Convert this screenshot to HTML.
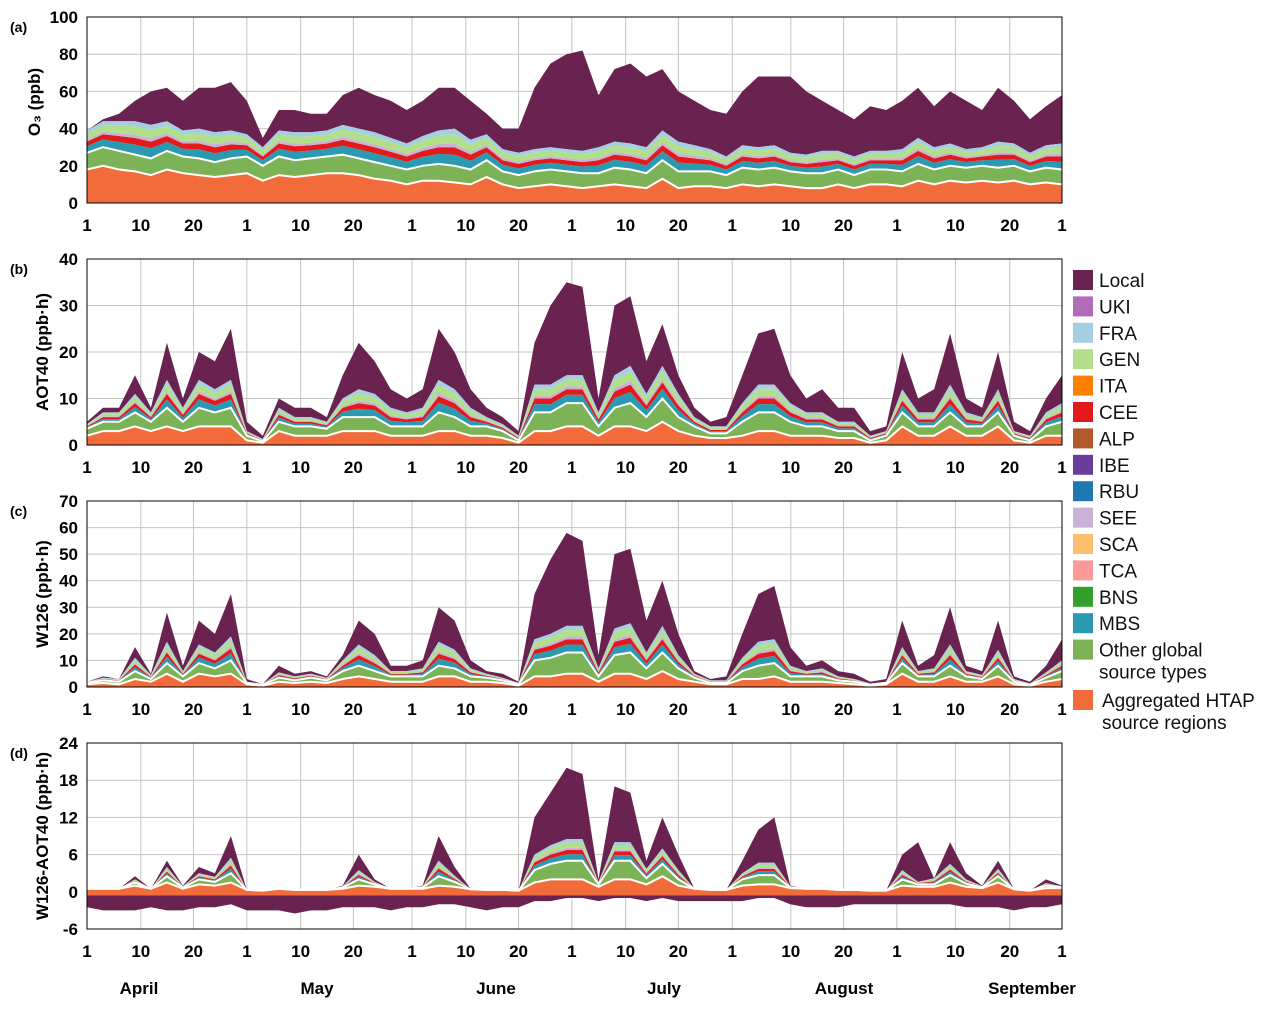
<!DOCTYPE html>
<html><head><meta charset="utf-8">
<style>
body{margin:0;background:#fff;}
svg{display:block;font-family:"Liberation Sans",sans-serif;}
.t{font-weight:bold;font-size:17px;fill:#000;}
.lg{font-size:19px;fill:#111;}
</style></head>
<body>
<svg id="c" width="1268" height="1010" viewBox="0 0 1268 1010" xmlns="http://www.w3.org/2000/svg"></svg>
<script>
// ---- data (3-day steps, day 0 = 1 April ... day 183 = 1 October) ----
const dayStep = 3;
const xTickLabels = ["1","10","20","1","10","20","1","10","20","1","10","20","1","10","20","1","10","20","1"];
const xTickDays = [0,10.1,20,30,40.1,50,61,71.1,81,91,101.1,111,121.1,132.1,142,152,163,173.2,183];
const months = ["April","May","June","July","August","September"];
const monthX = [139,317,496,664,844,1032];

const a_total=[38,45,48,55,60,62,55,62,62,65,55,35,50,50,48,48,58,62,58,55,50,55,62,62,55,48,40,40,62,75,80,82,58,72,75,68,72,60,55,50,48,60,68,68,68,60,55,50,45,52,50,55,62,52,60,55,50,62,55,45,52,58];
const a_htap=[18,20,18,17,15,18,16,15,14,15,16,12,15,14,15,16,16,15,13,12,10,12,12,11,10,14,10,8,9,10,9,8,9,10,9,8,13,8,9,9,8,10,9,10,9,8,8,10,8,10,10,9,12,10,12,11,12,11,12,10,11,10];
const a_other=[9,10,10,9,9,10,9,9,8,9,9,8,10,9,9,9,10,9,9,8,8,8,9,9,8,9,7,7,8,8,8,8,7,9,9,8,10,9,8,8,7,9,9,9,8,8,8,8,7,8,8,8,9,8,8,8,8,8,8,7,8,8];
const a_mix=[12,14,16,18,18,16,14,16,16,15,12,10,14,15,14,14,16,16,16,15,14,16,18,20,16,14,12,12,12,12,12,12,14,14,14,14,16,16,14,12,10,12,12,12,10,10,12,10,10,10,10,12,14,12,12,10,10,14,12,10,12,14];

const b_total=[5,8,8,15,8,22,10,20,18,25,5,2,10,8,8,6,15,22,18,12,10,12,25,20,12,8,6,3,22,30,35,34,10,30,32,18,26,15,8,5,6,15,24,25,15,10,12,8,8,3,4,20,10,12,24,10,8,20,5,3,10,15];
const b_htap=[2,3,3,4,3,4,3,4,4,4,1,0.5,3,2,2,2,3,3,3,2,2,2,3,3,2,2,1.5,0.5,3,3,4,4,2,4,4,3,5,3,2,1.5,1.5,2,3,3,2,2,2,1.5,1.5,0.5,1,4,2,2,4,2,2,4,1,0.5,2,2];
const b_other=[1.5,2,2,3,2,4,2,4,3,4,1,0.3,2,2,2,1.5,3,3,3,2,2,2,4,3,2,2,1.5,0.5,4,4,5,5,2,4,5,3,5,3,2,1,1,3,4,4,3,2,2,1.5,1.5,0.5,1,3,2,2,3,2,2,3,1,0.5,2,3];
const b_mix=[1,2,2,4,2,6,3,6,5,6,1,0.5,3,2,2,1.5,4,6,5,4,3,4,7,6,4,2,1.5,1,6,6,6,6,3,7,8,5,7,5,2,1.5,1.5,4,6,6,4,3,3,2,2,1,1,5,3,3,6,3,2,5,1,1,3,4];

const c_total=[2,4,3,15,5,28,8,25,20,35,3,1,8,5,6,4,12,25,20,8,8,10,30,25,10,6,5,2,35,48,58,55,12,50,52,25,40,20,6,3,4,20,35,38,15,8,10,6,5,2,3,25,8,12,30,8,6,25,4,2,8,18];
const c_htap=[1,1.5,1,3,2,5,2,5,4,5,1,0.5,2,1.5,2,1.5,3,4,3,2,2,2,4,4,2,2,1.5,0.5,4,4,5,5,2,5,5,3,6,3,2,1,1,3,3,4,2,2,2,1.5,1,0.5,1,5,2,2,4,2,2,4,1,0.5,2,3];
const c_other=[0.5,1,1,3,1,4,2,4,3,5,0.5,0.3,1.5,1,1.5,1,3,4,3,2,2,2,4,3,2,1.5,1,0.5,6,7,8,8,2,7,8,4,7,4,1.5,0.5,0.5,3,5,5,2,2,2,1,1,0.3,0.5,4,2,2,4,2,1,4,1,0.3,1.5,3];
const c_mix=[0.5,1,1,5,1.5,8,2,7,6,9,0.5,0.2,2,1.5,1.5,1,4,8,6,2,2,3,9,7,3,1.5,1,0.5,8,9,10,10,3,10,11,6,10,5,1.5,1,1,5,9,9,4,2,3,1.5,1,0.5,0.5,6,2,3,8,2,1.5,6,1,0.5,2,4];

const d_total=[0.5,0.5,0.5,2.5,0.5,5,1,4,3,9,0.3,0.2,0.5,0.3,0.3,0.3,1,6,2,0.5,0.5,1,9,4,0.5,0.3,0.3,0.2,12,16,20,19,2,17,16,5,12,6,0.5,0.3,0.3,5,10,12,1,0.5,0.5,0.3,0.3,0.2,0.2,6,8,2,8,3,1,5,0.5,0.2,2,1];
const d_htap=[0.5,0.5,0.5,1,0.5,1.5,0.5,1.2,1,1.5,0.3,0.2,0.5,0.3,0.3,0.3,0.5,1,0.8,0.5,0.5,0.5,1,0.8,0.4,0.3,0.3,0.2,1.5,2,2,2,0.8,2,2,1.2,2.5,1,0.5,0.3,0.3,1,1.2,1.2,0.6,0.5,0.5,0.3,0.3,0.2,0.2,1,0.8,0.8,1.5,0.8,0.6,1.5,0.4,0.2,0.6,0.6];
const d_other=[0,0,0,0.5,0,1,0.2,0.8,0.6,1.5,0,0,0,0,0,0,0.2,1,0.4,0,0,0.2,1.5,0.8,0,0,0,0,2,2.5,3,3,0.4,3,3,1,2,1,0,0,0,1,1.5,1.5,0.1,0,0,0,0,0,0,1,0.4,0.4,1.2,0.5,0.1,1,0,0,0.4,0.1];
const d_mix=[0,0,0,0.5,0,1.5,0.2,1,0.8,2.5,0,0,0,0,0,0,0.2,1.5,0.4,0,0,0.2,2.5,1,0,0,0,0,2.5,3,3.5,3.5,0.4,3,3,1.5,2.5,1.5,0,0,0,1,2,2,0.2,0,0,0,0,0,0,1.5,0.4,1,1.8,0.7,0.2,1.2,0,0,0.4,0.2];
const d_neg=[-2.5,-3,-3,-3,-2.5,-3,-3,-2.5,-2.5,-2,-3,-3,-3,-3.5,-3,-3,-2.5,-2.5,-2.5,-3,-2.5,-2.5,-2,-2,-2.5,-3,-2.5,-2.5,-1.5,-1.5,-1,-1,-1.5,-1,-1,-1.5,-1,-1.5,-1.5,-1.5,-1.5,-1.5,-1,-1,-2,-2.5,-2.5,-2.5,-2,-2,-2,-2,-2,-2,-2,-2.5,-2.5,-2.5,-3,-2.5,-2.5,-2];

const legendNames=["Local","UKI","FRA","GEN","ITA","CEE","ALP","IBE","RBU","SEE","SCA","TCA","BNS","MBS","Other global","Aggregated HTAP"];
const legendColors=["#6a2350","#b36bb8","#a6cee3","#b2df8a","#ff7f00","#e31a1c","#b15928","#6a3d9a","#1f78b4","#cab2d6","#fdbf6f","#fb9a99","#33a02c","#2b9ab0","#7cb356","#f26b3a"];

// ---- drawing ----
const NS="http://www.w3.org/2000/svg";
const svg=document.getElementById('c');
function mk(tag,attrs,parent){const e=document.createElementNS(NS,tag);for(const k in attrs)e.setAttribute(k,attrs[k]);(parent||svg).appendChild(e);return e;}
const X0=87,X1=1062,DAYS=183;
const xs=d=>X0+(X1-X0)*d/DAYS;
const mixParts=[["#2b9ab0",0.3],["#e31a1c",0.2],["#cab2d6",0.1],["#b2df8a",0.25],["#a6cee3",0.15]];

const panels=[
 {id:"a",top:17,bot:203,min:0,max:100,step:20,label:"O\u2083 (ppb)",total:a_total,htap:a_htap,other:a_other,mix:a_mix},
 {id:"b",top:259,bot:445,min:0,max:40,step:10,label:"AOT40 (ppb\u00b7h)",total:b_total,htap:b_htap,other:b_other,mix:b_mix},
 {id:"c",top:501,bot:687,min:0,max:70,step:10,label:"W126 (ppb\u00b7h)",total:c_total,htap:c_htap,other:c_other,mix:c_mix},
 {id:"d",top:743,bot:929,min:-6,max:24,step:6,label:"W126-AOT40 (ppb\u00b7h)",total:d_total,htap:d_htap,other:d_other,mix:d_mix,neg:d_neg}
];

function areaPath(lo,hi,ys){
  let p="";
  for(let i=0;i<hi.length;i++){p+=(i?"L":"M")+xs(i*dayStep).toFixed(1)+","+ys(hi[i]).toFixed(1);}
  for(let i=lo.length-1;i>=0;i--){p+="L"+xs(i*dayStep).toFixed(1)+","+ys(lo[i]).toFixed(1);}
  return p+"Z";
}
function linePath(v,ys){let p="";for(let i=0;i<v.length;i++)p+=(i?"L":"M")+xs(i*dayStep).toFixed(1)+","+ys(v[i]).toFixed(1);return p;}

panels.forEach(P=>{
  const g=mk('g',{});
  
  
  const ys=v=>P.bot-(v-P.min)/(P.max-P.min)*(P.bot-P.top);
  for(let v=P.min;v<=P.max;v+=P.step){
    const l=mk('line',{x1:X0,x2:X1,y1:ys(v),y2:ys(v),stroke:"#c4c4c4","stroke-width":1},g);
    
    
    const t=mk('text',{x:78,y:ys(v)+6,"text-anchor":"end",class:"t"},g);
    
    
    t.textContent=v;
  }
  xTickDays.forEach((d,i)=>{
    const l=mk('line',{x1:xs(d),x2:xs(d),y1:P.top,y2:P.bot,stroke:"#c4c4c4","stroke-width":1},g);
    
    
    const t=mk('text',{x:xs(d),y:P.bot+28,"text-anchor":"middle",class:"t"},g);
    
    
    t.textContent=xTickLabels[i];
  });
  const n=P.total.length;
  const base=new Array(n).fill(P.neg?-0.6:0);
  const s1=P.htap.slice();
  const s2=s1.map((v,i)=>v+P.other[i]);
  const s3=s2.map((v,i)=>v+P.mix[i]);
  const top=s3.map((v,i)=>Math.max(v,P.total[i]));
  if(P.neg){
    const zero=new Array(n).fill(0);
    const neg=mk('path',{d:areaPath(P.neg,zero,ys),fill:"#6a2350"},g);
    
    
  }
  const loc=mk('path',{d:areaPath(s3,top,ys),fill:"#6a2350"},g);
  
  
  let cum=s2.slice();
  mixParts.forEach(([col,f])=>{
    const nxt=cum.map((v,i)=>v+P.mix[i]*f);
    const m=mk('path',{d:areaPath(cum,nxt,ys),fill:col},g);
    
    
    cum=nxt;
  });
  const o=mk('path',{d:areaPath(s1,s2,ys),fill:"#7cb356"},g);
  
  
  const h=mk('path',{d:areaPath(base,s1,ys),fill:"#f26b3a"},g);
  
  
  [s1,s2].forEach(s=>{
    const w=mk('path',{d:linePath(s,ys),fill:"none",stroke:"#fff","stroke-width":2},g);
    
    
  });
  const fr=mk('rect',{x:X0,y:P.top,width:X1-X0,height:P.bot-P.top,fill:"none",stroke:"#000","stroke-width":1},g);
  
  
  const pl=mk('text',{x:10,y:P.top+15,class:"t"},g);
  
  
  pl.style.fontSize="14px";
  pl.textContent="("+P.id+")";
  const cy=(P.top+P.bot)/2-(P.id==="a"?8:0);
  const yl=mk('text',{x:0,y:0,class:"t","text-anchor":"middle",transform:`translate(${P.id==="a"?40:48},${cy}) rotate(-90)`},g);
  
  
  yl.textContent=P.label;
});

months.forEach((m,i)=>{
  const t=mk('text',{x:monthX[i],y:994,"text-anchor":"middle",class:"t"});
  
  
  t.textContent=m;
});

const lg=mk('g',{});


legendNames.forEach((nm,i)=>{
  let y=270+i*26.4; if(i===15) y=690;
  const r=mk('rect',{x:1073,y:y,width:20,height:20,fill:legendColors[i]},lg);
  
  
  const t=mk('text',{x:i===15?1102:1099,y:y+17,class:"lg"},lg);
  
  
  if(i===14){t.textContent="Other global";const t2=mk('text',{x:1099,y:y+39,class:"lg"},lg);t2.textContent="source types";}
  else if(i===15){t.textContent="Aggregated HTAP";const t2=mk('text',{x:1102,y:y+39,class:"lg"},lg);t2.textContent="source regions";}
  else t.textContent=nm;
});
</script>
</body></html>
